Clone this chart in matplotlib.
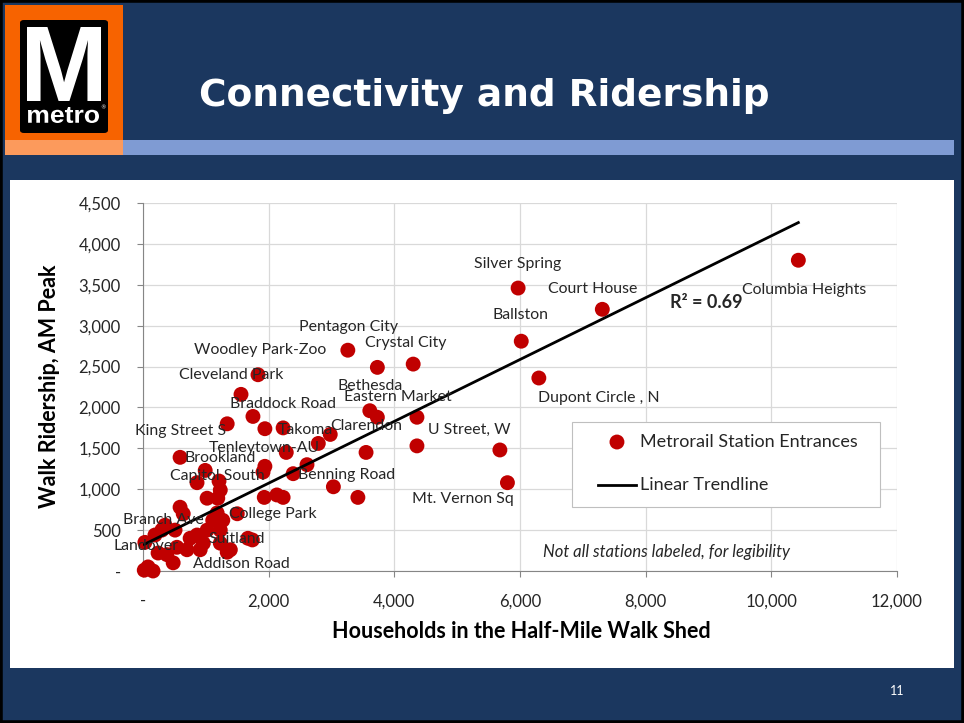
import matplotlib
matplotlib.use("Agg")
import matplotlib.pyplot as plt
from matplotlib.patches import Rectangle, FancyBboxPatch, PathPatch
from matplotlib.textpath import TextPath
from matplotlib.font_manager import FontProperties
from matplotlib.transforms import Affine2D, IdentityTransform
from matplotlib.ticker import FuncFormatter

# households in half-mile walk shed vs walk ridership (AM peak), one point per entrance
households = [
    10430, 5970, 7310, 6020, 6300, 3260, 3730, 4300, 1830, 1560,
    1750, 1340, 1940, 2230, 3610, 3730, 4360, 4360, 3550, 2980,
    2790, 2280, 590, 1940, 1910, 2610, 2390, 990, 860, 1210,
    1230, 1020, 1190, 1930, 2230, 3030, 3420, 5680, 5800, 590,
    640, 1180, 1270, 1500, 1110, 1020, 1230, 860, 350, 300,
    190, 30, 750, 1670, 1740, 1230, 1390, 540, 910, 240,
    480, 80, 20, 160, 380, 700, 1340, 960, 510, 2130,
]
walk_riders = [
    3800, 3460, 3200, 2810, 2360, 2700, 2490, 2530, 2400, 2160,
    1890, 1800, 1740, 1750, 1960, 1880, 1880, 1530, 1450, 1670,
    1560, 1450, 1390, 1280, 1210, 1300, 1190, 1230, 1080, 1100,
    990, 890, 890, 900, 900, 1030, 900, 1480, 1080, 780,
    700, 710, 620, 700, 620, 500, 500, 440, 560, 500,
    440, 350, 400, 400, 380, 340, 260, 290, 260, 220,
    100, 50, 10, 0, 200, 260, 230, 340, 500, 930,
]

# labelled stations and where Excel put the label text
label_names = [
    "Silver Spring", "Court House", "Columbia Heights", "Ballston",
    "Pentagon City", "Woodley Park-Zoo", "Crystal City", "Cleveland Park",
    "Bethesda", "Eastern Market", "Braddock Road", "Dupont Circle , N",
    "King Street S", "Takoma", "Clarendon", "U Street, W", "Tenleytown-AU",
    "Brookland", "Capitol South", "Benning Road", "Mt. Vernon Sq",
    "Branch Ave", "College Park", "Suitland", "Landover", "Addison Road",
]
label_xy = [
    (5970, 3752), (7164, 3446), (10523, 3434), (6002, 3128),
    (3264, 2982), (1863, 2701), (4187, 2786), (1401, 2395),
    (3614, 2261), (4060, 2126), (2229, 2041), (7260, 2114),
    (605, 1711), (2579, 1723), (3550, 1772), (5190, 1723), (1926, 1503),
    (1226, 1381), (1178, 1161), (3232, 1173), (5094, 880),
    (318, 623), (2070, 697), (1496, 391), (48, 306), (1560, 86),
]

# trendline
trend_slope = 0.378
trend_intercept = 318
r_squared = 0.69

x_ticks = [0, 2000, 4000, 6000, 8000, 10000, 12000]
y_ticks = [0, 500, 1000, 1500, 2000, 2500, 3000, 3500, 4000, 4500]

NAVY = "#1b375f"
RED = "#c00000"
FONT = "Lato"
W, H = 964, 723


def fx(px):
    return px / W


def fy(py):
    return 1 - py / H


fig = plt.figure(figsize=(W / 100, H / 100), dpi=100)
fig.patch.set_facecolor(NAVY)


def add_rect(x, y, w, h, **kw):
    fig.patches.append(Rectangle((fx(x), fy(y + h)), fx(w), h / H,
                                 transform=fig.transFigure, zorder=-1, **kw))


def boxed_text(s, x0, y0, x1, y1, prop):
    # squeeze a glyph run into a pixel box (top-left origin), like the logo art
    path = TextPath((0, 0), s, size=100, prop=prop)
    ext = path.get_extents()
    tr = (Affine2D().translate(-ext.x0, -ext.y0)
          .scale((x1 - x0) / ext.width, (y1 - y0) / ext.height)
          .translate(x0, H - y1))
    patch = PathPatch(tr.transform_path(path), fc="white", ec="none",
                      transform=IdentityTransform())
    fig.add_artist(patch)


# slide chrome
add_rect(0, 0, W, H, fill=False, ec="black", lw=4)
add_rect(5, 5, 118, 135, fc="#f76300", ec="none")
add_rect(5, 140, 118, 15, fc="#fc9a5c", ec="none")
add_rect(123, 140, 831, 15, fc="#7f9bd3", ec="none")
add_rect(10, 180, 944, 488, fc="white", ec="none")
fig.patches.append(FancyBboxPatch((fx(20), fy(133)), fx(88), 113 / H,
                                  boxstyle="round,pad=0,rounding_size=0.004",
                                  transform=fig.transFigure, fc="black", ec="none",
                                  zorder=-1))
boxed_text("M", 27, 27, 101, 101, FontProperties(family="Liberation Sans", weight="bold"))
boxed_text("metro", 28, 107, 99, 123, FontProperties(family="Liberation Sans", weight="bold"))
fig.text(fx(103), fy(108), "\u00ae", color="white", fontsize=4,
         ha="center", va="center")
fig.text(fx(484), fy(96), "Connectivity and Ridership", color="white",
         fontsize=27, fontweight="bold", family="DejaVu Sans",
         ha="center", va="center")
fig.text(fx(897), fy(691), "11", color="white", fontsize=9, family=FONT,
         ha="center", va="center")

ax = fig.add_axes([fx(143), fy(571), fx(754), 368 / H])
ax.set_zorder(2)
ax.set_facecolor("white")
ax.set_xlim(0, 12000)
ax.set_ylim(0, 4500)

ax.scatter(households, walk_riders, s=115, color=RED, edgecolors="none",
           zorder=3, clip_on=False)
x0, x1 = min(households), max(households)
ax.plot([x0, x1], [trend_slope * x0 + trend_intercept, trend_slope * x1 + trend_intercept],
        color="black", lw=2, zorder=4)

for name, (lx, ly) in zip(label_names, label_xy):
    ax.text(lx, ly, name, fontsize=11.4, family=FONT, color="#262626",
            ha="center", va="center", zorder=5)
ax.text(8963, 3287, f"R\u00b2 = {r_squared:.2f}", fontsize=13, fontweight="bold",
        family=FONT, color="#262626", ha="center", va="center", zorder=5)
ax.text(8326, 232, "Not all stations labeled, for legibility", fontsize=12,
        style="italic", family=FONT, color="#262626", ha="center", va="center")

fmt = FuncFormatter(lambda v, _: "-" if v == 0 else f"{v:,.0f}")
ax.set_xticks(x_ticks)
ax.set_yticks(y_ticks)
ax.xaxis.set_major_formatter(fmt)
ax.yaxis.set_major_formatter(fmt)
ax.tick_params(length=4, color="#868686", labelsize=12, pad=12, labelcolor="#262626")
for lab in ax.get_xticklabels() + ax.get_yticklabels():
    lab.set_family(FONT)
ax.grid(True, color="#d9d9d9", lw=0.9)
ax.set_axisbelow(True)
for side in ("top", "right"):
    ax.spines[side].set_visible(False)
for side in ("left", "bottom"):
    ax.spines[side].set_color("#868686")

fig.text(fx(521), fy(632), "Households in the Half-Mile Walk Shed", fontsize=15.5,
         fontweight="bold", family=FONT, color="black", ha="center", va="center")
fig.text(fx(50), fy(386), "Walk Ridership, AM Peak", fontsize=15.5, rotation=90,
         fontweight="bold", family=FONT, color="black", ha="center", va="center")

# legend drawn by hand to get Excel's padding
ax.add_patch(Rectangle((0.569, 0.174), 0.4085, 0.231, transform=ax.transAxes,
                       fc="white", ec="#bfbfbf", lw=0.8, zorder=6))
ax.scatter([0.6286], [0.3505], s=115, color=RED, edgecolors="none",
           transform=ax.transAxes, zorder=7)
ax.plot([0.6034, 0.6538], [0.2337, 0.2337], color="black", lw=2,
        transform=ax.transAxes, zorder=7)
ax.text(0.6592, 0.3505, "Metrorail Station Entrances", transform=ax.transAxes,
        fontsize=13, family=FONT, color="#262626", va="center", zorder=7)
ax.text(0.6592, 0.2337, "Linear Trendline", transform=ax.transAxes,
        fontsize=13, family=FONT, color="#262626", va="center", zorder=7)

fig.savefig("out.png", dpi=100, facecolor=fig.get_facecolor())
